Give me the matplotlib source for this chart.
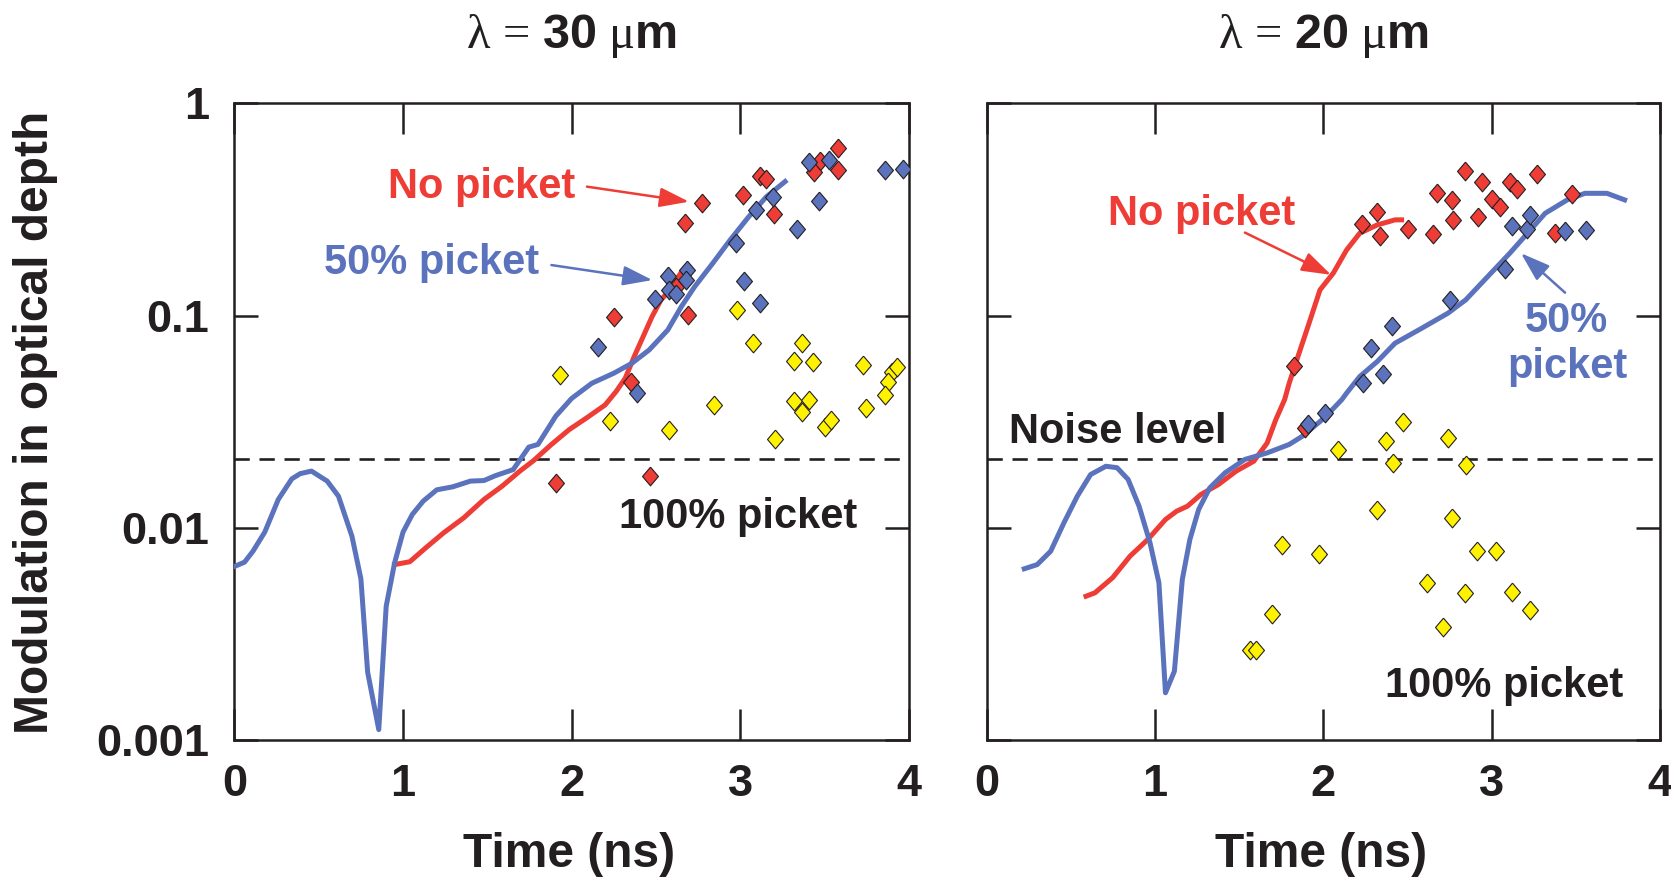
import numpy as np
import matplotlib
matplotlib.use("Agg")
import matplotlib.pyplot as plt
from matplotlib.ticker import FixedLocator, FixedFormatter, NullLocator

# ---------------- data: lambda = 30 um ----------------
t30_blue = [0.005, 0.06, 0.11, 0.18, 0.26, 0.34, 0.39, 0.457, 0.55, 0.617, 0.697, 0.75, 0.79,
            0.856, 0.90, 0.95, 1.00, 1.055, 1.12, 1.20, 1.295, 1.40, 1.48, 1.547, 1.653, 1.746,
            1.80, 1.906, 2.0, 2.12, 2.25, 2.357, 2.46, 2.57, 2.65, 2.73, 2.836, 2.94, 3.05,
            3.155, 3.266]
m30_blue = [0.0066, 0.00689, 0.00776, 0.00955, 0.0136, 0.0170, 0.0180, 0.0185, 0.0166, 0.0141,
            0.00912, 0.00575, 0.00209, 0.00112, 0.00427, 0.00684, 0.00955, 0.01156, 0.01337,
            0.0151, 0.0156, 0.0166, 0.0167, 0.0176, 0.0188, 0.0240, 0.0247, 0.0336, 0.0407,
            0.0480, 0.0535, 0.0596, 0.0689, 0.0855, 0.110, 0.137, 0.176, 0.227, 0.292, 0.363,
            0.428]

t30_red = [0.95, 1.04, 1.135, 1.24, 1.36, 1.48, 1.587, 1.693, 1.773, 1.88, 1.985, 2.09, 2.198,
           2.264, 2.318, 2.371, 2.424, 2.477, 2.53, 2.583, 2.65]
m30_red = [0.00671, 0.00692, 0.00805, 0.00946, 0.01114, 0.0136, 0.0157, 0.0185, 0.0207, 0.0247,
           0.0290, 0.0330, 0.0379, 0.0439, 0.0507, 0.0641, 0.0796, 0.0989, 0.1186, 0.132, 0.160]

t30_red_pts = [2.775, 2.67, 3.016, 3.115, 3.15, 3.203, 3.58, 3.474, 3.44, 3.58, 2.25, 2.69, 2.35,
               2.62, 1.906, 2.464]
m30_red_pts = [0.338, 0.272, 0.370, 0.455, 0.4385, 0.301, 0.614, 0.537, 0.476, 0.485, 0.0989,
               0.1007, 0.0489, 0.137, 0.0163, 0.0176]

t30_blue_pts = [3.407, 3.527, 3.86, 3.965, 3.47, 3.335, 3.195, 3.096, 2.974, 3.022, 3.115, 2.687,
                2.57, 2.676, 2.575, 2.618, 2.496, 2.158, 2.39]
m30_blue_pts = [0.531, 0.541, 0.485, 0.489, 0.347, 0.255, 0.363, 0.313, 0.219, 0.146, 0.115,
                0.164, 0.153, 0.147, 0.132, 0.126, 0.120, 0.0710, 0.0434]

t30_yel_pts = [1.932, 2.23, 2.58, 2.847, 2.98, 3.075, 3.368, 3.32, 3.434, 3.32, 3.407, 3.368,
               3.5, 3.54, 3.208, 3.73, 3.899, 3.93, 3.877, 3.86, 3.745]
m30_yel_pts = [0.0526, 0.0319, 0.0290, 0.0377, 0.1057, 0.0741, 0.0741, 0.0612, 0.0607, 0.0394,
               0.0398, 0.0353, 0.0300, 0.0323, 0.0262, 0.0583, 0.0545, 0.0571, 0.0489, 0.0423,
               0.0366]

# ---------------- data: lambda = 20 um ----------------
t20_blue = [0.223, 0.30, 0.38, 0.459, 0.538, 0.617, 0.708, 0.774, 0.84, 0.905, 0.97, 1.023,
            1.062, 1.115, 1.162, 1.207, 1.259, 1.325, 1.416, 1.534, 1.666, 1.797, 1.875, 2.007,
            2.11, 2.138, 2.216, 2.32, 2.426, 2.584, 2.74, 2.846, 2.977, 3.108, 3.213, 3.318,
            3.449, 3.554, 3.685, 3.79]
m20_blue = [0.00641, 0.00671, 0.00776, 0.01057, 0.01409, 0.01782, 0.0195, 0.0192, 0.0169,
            0.01265, 0.00851, 0.00551, 0.00167, 0.00211, 0.00571, 0.00881, 0.01219, 0.01542,
            0.01816, 0.0210, 0.02254, 0.0247, 0.0270, 0.0330, 0.0402, 0.0431, 0.0516, 0.0607,
            0.0741, 0.0871, 0.1026, 0.1186, 0.1528, 0.1968, 0.2443, 0.3034, 0.3508, 0.3767,
            0.3767, 0.3508]

t20_red = [0.59, 0.643, 0.748, 0.852, 0.957, 1.062, 1.128, 1.193, 1.272, 1.377, 1.482, 1.587,
           1.666, 1.718, 1.77, 1.797, 1.849, 1.915, 1.98, 2.059, 2.138, 2.216, 2.32, 2.426, 2.465]
m20_red = [0.00476, 0.00494, 0.00582, 0.00736, 0.00881, 0.01094, 0.01197, 0.01265, 0.01435,
           0.0160, 0.0185, 0.0206, 0.0251, 0.0324, 0.0402, 0.0480, 0.0641, 0.0920, 0.1321,
           0.1585, 0.2037, 0.2443, 0.2673, 0.2825, 0.2825]

t20_red_pts = [1.828, 2.23, 2.32, 2.334, 2.505, 2.65, 2.675, 2.767, 2.773, 2.84, 2.92, 2.945,
               3.003, 3.05, 3.108, 3.148, 3.27, 3.475, 3.376, 1.889]
m20_red_pts = [0.0579, 0.270, 0.309, 0.238, 0.255, 0.242, 0.379, 0.351, 0.2825, 0.482, 0.290,
               0.428, 0.355, 0.324, 0.425, 0.394, 0.465, 0.372, 0.246, 0.0295]

t20_blue_pts = [1.907, 2.007, 2.237, 2.355, 2.282, 2.405, 2.754, 3.082, 3.121, 3.208, 3.226,
                3.436, 3.559]
m20_blue_pts = [0.0307, 0.0348, 0.0483, 0.0531, 0.0706, 0.0897, 0.1186, 0.165, 0.264, 0.255,
                0.298, 0.249, 0.253]

t20_yel_pts = [2.085, 2.374, 2.474, 2.741, 2.413, 2.85, 2.321, 2.767, 1.757, 1.975, 2.911, 3.024,
               2.615, 2.84, 3.121, 3.226, 2.71, 1.692, 1.566, 1.6]
m20_yel_pts = [0.0232, 0.0256, 0.0315, 0.0265, 0.0202, 0.0197, 0.0121, 0.0111, 0.00828, 0.00755,
               0.00776, 0.00776, 0.00551, 0.00494, 0.00498, 0.00409, 0.00340, 0.00391, 0.00267,
               0.00265]

noise_level = 0.021
yticks = [0.001, 0.01, 0.1, 1]
ytick_labels = ["0.001", "0.01", "0.1", "1"]
xticks = [0, 1, 2, 3, 4]

RED = "#EE3D36"
BLUE = "#5B72BD"
YEL = "#FFF200"
INK = "#231F20"

plt.rcParams["font.family"] = ["Liberation Sans", "DejaVu Sans"]
plt.rcParams["font.weight"] = "bold"
plt.rcParams["mathtext.fontset"] = "custom"
plt.rcParams["mathtext.rm"] = "Liberation Serif:weight=normal"
plt.rcParams["mathtext.bf"] = "Liberation Sans:bold"
plt.rcParams["mathtext.it"] = "Liberation Serif:italic:weight=normal"
plt.rcParams["lines.scale_dashes"] = False

diamond = [(0, 1), (0.85, 0), (0, -1), (-0.85, 0), (0, 1)]
arrow_style = "-|>,head_length=1.8,head_width=0.6"

fig = plt.figure(figsize=(16.71, 8.81), dpi=100)
ax1 = fig.add_axes([0.1403, 0.160, 0.4036, 0.7227])
ax2 = fig.add_axes([0.5905, 0.160, 0.4029, 0.7227])


def style_axes(ax, show_ylabels):
    ax.set_yscale("log")
    ax.set_xlim(0, 4)
    ax.set_ylim(0.001, 1)
    for s in ax.spines.values():
        s.set_linewidth(1.8)
        s.set_color(INK)
    ax.xaxis.set_major_locator(FixedLocator(xticks))
    ax.yaxis.set_major_locator(FixedLocator(yticks))
    ax.yaxis.set_major_formatter(FixedFormatter(ytick_labels))
    ax.yaxis.set_minor_locator(NullLocator())
    ax.tick_params(axis="x", direction="in", length=22, width=1.8, top=True, bottom=True,
                   labelsize=32.5, pad=17, colors=INK)
    ax.tick_params(axis="y", direction="in", length=17, width=1.8, left=True, right=True,
                   labelsize=32.5, pad=18, colors=INK, labelleft=show_ylabels)
    ax.axhline(noise_level, color=INK, lw=1.9, dashes=(11, 7), zorder=1)


def scatter(ax, t, m, color):
    ax.plot(t, m, linestyle="none", marker=diamond, markersize=13.5, markerfacecolor=color,
            markeredgecolor=INK, markeredgewidth=0.8, zorder=4)


# ---- left panel ----
style_axes(ax1, True)
ax1.plot(t30_red, m30_red, color=RED, lw=3.6, zorder=2)
ax1.plot(t30_blue, m30_blue, color=BLUE, lw=3.6, zorder=3)
scatter(ax1, t30_yel_pts, m30_yel_pts, YEL)
scatter(ax1, t30_red_pts, m30_red_pts, RED)
scatter(ax1, t30_blue_pts, m30_blue_pts, BLUE)

ax1.text(1.467, 0.357, "No picket", color=RED, fontsize=30, ha="center", va="baseline")
ax1.text(1.168, 0.157, "50% picket", color=BLUE, fontsize=30, ha="center", va="baseline")
ax1.text(2.989, 0.0100, "100% picket", color=INK, fontsize=30, ha="center", va="baseline")
ax1.annotate("", xy=(2.696, 0.344), xytext=(2.091, 0.405),
             arrowprops=dict(arrowstyle=arrow_style, color=RED, lw=1.8,
                             shrinkA=0, shrinkB=0, mutation_scale=10), zorder=5)
ax1.annotate("", xy=(2.479, 0.147), xytext=(1.880, 0.173),
             arrowprops=dict(arrowstyle=arrow_style, color=BLUE, lw=1.8,
                             shrinkA=0, shrinkB=0, mutation_scale=10), zorder=5)

# ---- right panel ----
style_axes(ax2, False)
ax2.plot(t20_red, m20_red, color=RED, lw=3.6, zorder=2)
ax2.plot(t20_blue, m20_blue, color=BLUE, lw=3.6, zorder=3)
scatter(ax2, t20_yel_pts, m20_yel_pts, YEL)
scatter(ax2, t20_red_pts, m20_red_pts, RED)
scatter(ax2, t20_blue_pts, m20_blue_pts, BLUE)

ax2.text(1.279, 0.267, "No picket", color=RED, fontsize=30, ha="center", va="baseline")
ax2.text(3.443, 0.0841, "50%", color=BLUE, fontsize=30, ha="center", va="baseline")
ax2.text(3.449, 0.0507, "picket", color=BLUE, fontsize=30, ha="center", va="baseline")
ax2.text(0.78, 0.0252, "Noise level", color=INK, fontsize=30, ha="center", va="baseline")
ax2.text(3.076, 0.00160, "100% picket", color=INK, fontsize=30, ha="center", va="baseline")
ax2.annotate("", xy=(2.046, 10 ** -0.808), xytext=(1.534, 10 ** -0.609),
             arrowprops=dict(arrowstyle=arrow_style, color=RED, lw=1.8,
                             shrinkA=0, shrinkB=0, mutation_scale=10), zorder=5)
ax2.annotate("", xy=(3.174, 10 ** -0.706), xytext=(3.436, 10 ** -0.892),
             arrowprops=dict(arrowstyle=arrow_style, color=BLUE, lw=1.8,
                             shrinkA=0, shrinkB=0, mutation_scale=10), zorder=5)

# ---- titles and axis labels ----
fig.text(0.3421, 0.9455, r"$\mathrm{\lambda}\,=\,\mathbf{30}\ \mathrm{\mu}\mathbf{m}$",
         fontsize=35, ha="center", va="baseline", color=INK)
fig.text(0.7920, 0.9455, r"$\mathrm{\lambda}\,=\,\mathbf{20}\ \mathrm{\mu}\mathbf{m}$",
         fontsize=35, ha="center", va="baseline", color=INK)
fig.text(0.3405, 0.0162, "Time (ns)", fontsize=34.5, ha="center", va="baseline", color=INK)
fig.text(0.7904, 0.0162, "Time (ns)", fontsize=34.5, ha="center", va="baseline", color=INK)
fig.text(0.0214, 0.5203, "Modulation in optical depth", fontsize=34.5, rotation=90,
         ha="center", va="center", color=INK)

fig.savefig("out.png", dpi=100)
